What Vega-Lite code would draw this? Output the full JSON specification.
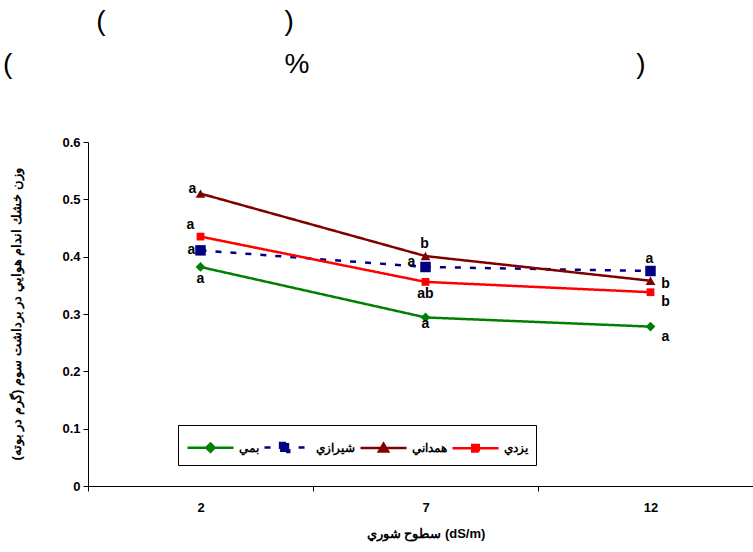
{
  "$schema": "https://vega.github.io/schema/vega-lite/v6.json",
  "width": 675,
  "height": 344,
  "autosize": {"type": "none"},
  "padding": {"left": 88, "top": 142, "right": 0, "bottom": 66},
  "background": "white",
  "title": {
    "text": ["\u200b\u00a0\u00a0\u00a0\u00a0\u00a0\u00a0\u00a0\u00a0\u00a0\u00a0\u00a0\u00a0(\u00a0\u00a0\u00a0\u00a0\u00a0\u00a0\u00a0\u00a0\u00a0\u00a0\u00a0\u00a0\u00a0\u00a0\u00a0\u00a0\u00a0\u00a0\u00a0\u00a0\u00a0\u00a0\u00a0)", "(\u00a0\u00a0\u00a0\u00a0\u00a0\u00a0\u00a0\u00a0\u00a0\u00a0\u00a0\u00a0\u00a0\u00a0\u00a0\u00a0\u00a0\u00a0\u00a0\u00a0\u00a0\u00a0\u00a0\u00a0\u00a0\u00a0\u00a0\u00a0\u00a0\u00a0\u00a0\u00a0\u00a0\u00a0\u00a0%\u00a0\u00a0\u00a0\u00a0\u00a0\u00a0\u00a0\u00a0\u00a0\u00a0\u00a0\u00a0\u00a0\u00a0\u00a0\u00a0\u00a0\u00a0\u00a0\u00a0\u00a0\u00a0\u00a0\u00a0\u00a0\u00a0\u00a0\u00a0\u00a0\u00a0\u00a0\u00a0\u00a0\u00a0\u00a0\u00a0\u00a0\u00a0\u00a0\u00a0\u00a0\u00a0)"],
    "anchor": "start",
    "frame": "group",
    "dx": -85,
    "offset": 57,
    "font": "Liberation Sans",
    "fontSize": 28,
    "fontWeight": "normal",
    "lineHeight": 43,
    "color": "black"
  },
  "config": {
    "view": {"stroke": null},
    "font": "Liberation Sans",
    "axis": {"grid": false, "domainColor": "black", "tickColor": "black", "labelColor": "black", "titleColor": "black", "labelFont": "Liberation Sans", "titleFont": "Liberation Sans"},
    "legend": {"labelFont": "Liberation Sans"}
  },
  "datasets": {
    "series": [
      {"ec": 2, "variety": "بمي", "value": 0.382, "letter": "a", "pos": "below"},
      {"ec": 7, "variety": "بمي", "value": 0.294, "letter": "a", "pos": "justbelow"},
      {"ec": 12, "variety": "بمي", "value": 0.278, "letter": "a", "pos": "belowright"},
      {"ec": 2, "variety": "شيرازي", "value": 0.411, "letter": "a", "pos": "left"},
      {"ec": 7, "variety": "شيرازي", "value": 0.382, "letter": "a", "pos": "farleft"},
      {"ec": 12, "variety": "شيرازي", "value": 0.375, "letter": "a", "pos": "above"},
      {"ec": 2, "variety": "همداني", "value": 0.510, "letter": "a", "pos": "upleft"},
      {"ec": 7, "variety": "همداني", "value": 0.401, "letter": "b", "pos": "above"},
      {"ec": 12, "variety": "همداني", "value": 0.358, "letter": "b", "pos": "right"},
      {"ec": 2, "variety": "يزدي", "value": 0.435, "letter": "a", "pos": "aboveleft"},
      {"ec": 7, "variety": "يزدي", "value": 0.356, "letter": "ab", "pos": "below"},
      {"ec": 12, "variety": "يزدي", "value": 0.338, "letter": "b", "pos": "belowright"}
    ]
  },
  "data": {"name": "series"},
  "encoding": {
    "x": {
      "field": "ec",
      "type": "ordinal",
      "sort": [2, 7, 12],
      "scale": {"type": "band", "paddingInner": 0, "paddingOuter": 0},
      "axis": {
        "title": "سطوح شوري (dS/m)",
        "labelAngle": 0,
        "tickBand": "extent",
        "labelFontWeight": "bold",
        "labelFontSize": 13,
        "labelPadding": 10,
        "tickSize": 5,
        "titleFontSize": 13,
        "titleFontWeight": "bold",
        "titlePadding": 13
      }
    },
    "y": {
      "field": "value",
      "type": "quantitative",
      "scale": {"domain": [0, 0.6], "nice": false, "zero": true},
      "axis": {
        "title": "وزن خشك اندام هوايي در برداشت سوم (گرم در بوته)",
        "values": [0, 0.1, 0.2, 0.3, 0.4, 0.5, 0.6],
        "format": "~g",
        "labelFontWeight": "bold",
        "labelFontSize": 13,
        "labelPadding": 3,
        "tickSize": 5,
        "titleFontSize": 13,
        "titleFontWeight": "bold",
        "titlePadding": 38
      }
    },
    "color": {
      "field": "variety",
      "type": "nominal",
      "scale": {"domain": ["بمي", "شيرازي", "همداني", "يزدي"], "range": ["#008000", "#000080", "#800000", "#FF0000"]},
      "legend": {
        "title": null,
        "orient": "none",
        "legendX": 90,
        "legendY": 283,
        "direction": "horizontal",
        "strokeColor": "black",
        "padding": 8,
        "symbolSize": 676,
        "symbolStrokeWidth": 2.5,
        "symbolOpacity": 1,
        "labelFontSize": 12,
        "labelFontWeight": "bold",
        "labelColor": "black",
        "labelOffset": 24,
        "columnPadding": 0
      }
    }
  },
  "layer": [
    {
      "mark": {"type": "line", "strokeWidth": 2.5},
      "encoding": {
        "strokeDash": {
          "field": "variety",
          "type": "nominal",
          "scale": {"domain": ["بمي", "شيرازي", "همداني", "يزدي"], "range": [[1, 0], [6, 9], [1, 0], [1, 0]]},
          "legend": null
        }
      }
    },
    {"transform": [{"filter": "datum.variety == 'بمي'"}], "mark": {"type": "point", "filled": true, "opacity": 1, "shape": "diamond", "size": 95}, "encoding": {}},
    {"transform": [{"filter": "datum.variety == 'شيرازي'"}], "mark": {"type": "point", "filled": true, "opacity": 1, "shape": "square", "size": 110}, "encoding": {}},
    {"transform": [{"filter": "datum.variety == 'همداني'"}], "mark": {"type": "point", "filled": true, "opacity": 1, "shape": "triangle-up", "size": 95}, "encoding": {}},
    {"transform": [{"filter": "datum.variety == 'يزدي'"}], "mark": {"type": "point", "filled": true, "opacity": 1, "shape": "square", "size": 60}, "encoding": {}},
    {
      "transform": [{"filter": "false"}],
      "mark": {"type": "point", "filled": true, "opacity": 1},
      "encoding": {
        "stroke": {
          "field": "variety",
          "type": "nominal",
          "scale": {"domain": ["بمي", "شيرازي", "همداني", "يزدي"], "range": ["#008000", "#000080", "#800000", "#FF0000"]}
        },
        "shape": {
          "field": "variety",
          "type": "nominal",
          "scale": {
            "domain": ["بمي", "شيرازي", "همداني", "يزدي"],
            "range": [
              "M-1,0H2.54M0.77,-0.32L1.09,0L0.77,0.32L0.45,0Z",
              "M-1,0H-0.54M1.62,0H2.08M0.2,-0.34H0.9V0.34H0.2Z",
              "M-1,0H2.54M0.77,-0.34L1.12,0.26L0.42,0.26Z",
              "M-1,0H2.54M0.52,-0.25H1.02V0.25H0.52Z"
            ]
          }
        }
      }
    },
    {"transform": [{"filter": "datum.pos == 'above'"}], "mark": {"type": "text", "dx": -1, "dy": -12, "fontSize": 14, "fontWeight": "bold", "font": "Liberation Sans"}, "encoding": {"text": {"field": "letter"}, "color": {"value": "black"}}},
    {"transform": [{"filter": "datum.pos == 'aboveleft'"}], "mark": {"type": "text", "dx": -10, "dy": -12, "fontSize": 14, "fontWeight": "bold", "font": "Liberation Sans"}, "encoding": {"text": {"field": "letter"}, "color": {"value": "black"}}},
    {"transform": [{"filter": "datum.pos == 'left'"}], "mark": {"type": "text", "dx": -9, "dy": 0, "fontSize": 14, "fontWeight": "bold", "font": "Liberation Sans"}, "encoding": {"text": {"field": "letter"}, "color": {"value": "black"}}},
    {"transform": [{"filter": "datum.pos == 'upleft'"}], "mark": {"type": "text", "dx": -8, "dy": -5, "fontSize": 14, "fontWeight": "bold", "font": "Liberation Sans"}, "encoding": {"text": {"field": "letter"}, "color": {"value": "black"}}},
    {"transform": [{"filter": "datum.pos == 'farleft'"}], "mark": {"type": "text", "dx": -14, "dy": -5, "fontSize": 14, "fontWeight": "bold", "font": "Liberation Sans"}, "encoding": {"text": {"field": "letter"}, "color": {"value": "black"}}},
    {"transform": [{"filter": "datum.pos == 'below'"}], "mark": {"type": "text", "dx": 0, "dy": 12, "fontSize": 14, "fontWeight": "bold", "font": "Liberation Sans"}, "encoding": {"text": {"field": "letter"}, "color": {"value": "black"}}},
    {"transform": [{"filter": "datum.pos == 'justbelow'"}], "mark": {"type": "text", "dx": 0, "dy": 7, "fontSize": 14, "fontWeight": "bold", "font": "Liberation Sans"}, "encoding": {"text": {"field": "letter"}, "color": {"value": "black"}}},
    {"transform": [{"filter": "datum.pos == 'right'"}], "mark": {"type": "text", "dx": 15, "dy": 3, "fontSize": 14, "fontWeight": "bold", "font": "Liberation Sans"}, "encoding": {"text": {"field": "letter"}, "color": {"value": "black"}}},
    {"transform": [{"filter": "datum.pos == 'belowright'"}], "mark": {"type": "text", "dx": 15, "dy": 10, "fontSize": 14, "fontWeight": "bold", "font": "Liberation Sans"}, "encoding": {"text": {"field": "letter"}, "color": {"value": "black"}}}
  ]
}
